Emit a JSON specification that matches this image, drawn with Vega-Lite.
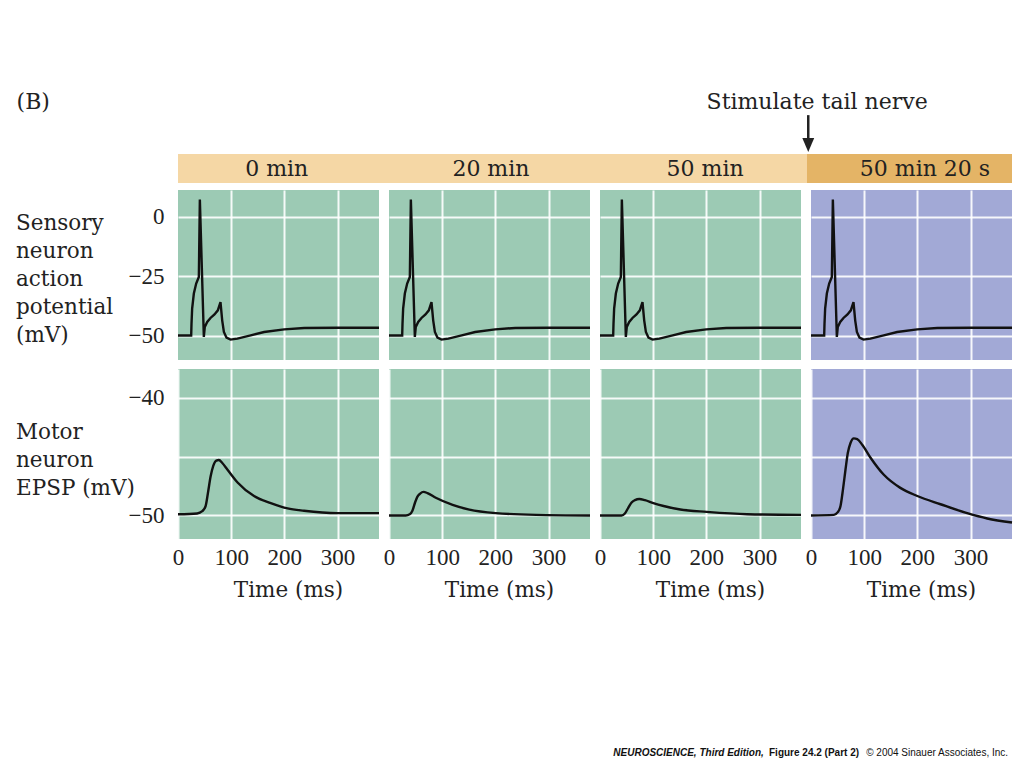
{
  "$schema": "https://vega.github.io/schema/vega-lite/v6.json",
  "background": "white",
  "padding": {"left": 15, "top": 91, "right": 5, "bottom": 5},
  "bounds": "flush",
  "spacing": 7,
  "config": {
    "view": {"stroke": null},
    "axis": {
      "grid": true, "gridColor": "#ffffff", "gridWidth": 2, "gridOpacity": 0.9,
      "domain": false, "ticks": false,
      "labelColor": "#222222", "titleColor": "#222222",
      "labelFont": "Liberation Serif", "labelFontSize": 23,
      "titleFont": "DejaVu Serif", "titleFontSize": 21.5, "titleFontWeight": "normal"
    },
    "text": {"font": "DejaVu Serif", "fontSize": 21.5, "color": "#222222"}
  },
  "datasets": {
    "bands": [
      {"phase": "before", "x0": 0, "x1": 2.981},
      {"phase": "after", "x0": 2.981, "x1": 3.9526}
    ],
    "headers": [
      {"label": "0 min", "pos": 0.468},
      {"label": "20 min", "pos": 1.483},
      {"label": "50 min", "pos": 2.498},
      {"label": "50 min 20 s", "pos": 3.54}
    ],
    "notes": [
      {"label": "(B)", "pos": -0.765},
      {"label": "Stimulate tail nerve", "pos": 2.505}
    ],
    "stimulus": [{"pos": 2.987}],
    "credits": [
      {"part": 1, "label": "NEUROSCIENCE, Third Edition,", "pos": 2.063},
      {"part": 2, "label": "Figure 24.2 (Part 2)", "pos": 2.801},
      {"part": 3, "label": "© 2004 Sinauer Associates, Inc.", "pos": 3.934}
    ],
    "ap": [
      {"t": 0, "v": -50}, {"t": 24.8, "v": -50}, {"t": 25.4, "v": -45}, {"t": 26.6, "v": -38.7},
      {"t": 29.8, "v": -32.3}, {"t": 34.2, "v": -28.1}, {"t": 39.2, "v": -25.3}, {"t": 41.1, "v": 7.3},
      {"t": 48.6, "v": -50.6}, {"t": 50.4, "v": -46.4}, {"t": 54.9, "v": -44.3}, {"t": 61.1, "v": -42.6},
      {"t": 68.6, "v": -41.1}, {"t": 74.9, "v": -39.4}, {"t": 79.9, "v": -35.9}, {"t": 83.1, "v": -43.6},
      {"t": 86.3, "v": -48.5}, {"t": 91.2, "v": -50.9}, {"t": 98.7, "v": -51.7}, {"t": 111.6, "v": -51.3},
      {"t": 136.8, "v": -49.9}, {"t": 162, "v": -48.5}, {"t": 199.7, "v": -47.4}, {"t": 237.4, "v": -46.8},
      {"t": 300, "v": -46.7}, {"t": 378, "v": -46.7}
    ],
    "epsp": [
      {"cond": "0 min", "t": 0, "v": -49.9}, {"cond": "0 min", "t": 36, "v": -49.83}, {"cond": "0 min", "t": 45.6, "v": -49.64},
      {"cond": "0 min", "t": 51.9, "v": -49.2}, {"cond": "0 min", "t": 56.3, "v": -48.1}, {"cond": "0 min", "t": 61.3, "v": -46.7},
      {"cond": "0 min", "t": 66.3, "v": -45.8}, {"cond": "0 min", "t": 72, "v": -45.35}, {"cond": "0 min", "t": 77, "v": -45.3},
      {"cond": "0 min", "t": 83.3, "v": -45.55}, {"cond": "0 min", "t": 92.8, "v": -46.1}, {"cond": "0 min", "t": 112, "v": -47.2},
      {"cond": "0 min", "t": 143, "v": -48.35}, {"cond": "0 min", "t": 174.5, "v": -48.95}, {"cond": "0 min", "t": 206, "v": -49.4},
      {"cond": "0 min", "t": 237, "v": -49.6}, {"cond": "0 min", "t": 300, "v": -49.8}, {"cond": "0 min", "t": 378, "v": -49.8},

      {"cond": "20 min", "t": 0, "v": -50}, {"cond": "20 min", "t": 31.5, "v": -50}, {"cond": "20 min", "t": 39, "v": -49.9},
      {"cond": "20 min", "t": 44, "v": -49.6}, {"cond": "20 min", "t": 49, "v": -48.9}, {"cond": "20 min", "t": 53.5, "v": -48.4},
      {"cond": "20 min", "t": 58.5, "v": -48.15}, {"cond": "20 min", "t": 64.8, "v": -48.0}, {"cond": "20 min", "t": 72.3, "v": -48.1},
      {"cond": "20 min", "t": 88, "v": -48.5}, {"cond": "20 min", "t": 119.6, "v": -49.1}, {"cond": "20 min", "t": 151, "v": -49.5},
      {"cond": "20 min", "t": 201, "v": -49.8}, {"cond": "20 min", "t": 277, "v": -49.95}, {"cond": "20 min", "t": 378, "v": -50},

      {"cond": "50 min", "t": 0, "v": -50}, {"cond": "50 min", "t": 40.5, "v": -50}, {"cond": "50 min", "t": 46.8, "v": -49.83},
      {"cond": "50 min", "t": 53.1, "v": -49.35}, {"cond": "50 min", "t": 59.4, "v": -48.9}, {"cond": "50 min", "t": 65.7, "v": -48.7},
      {"cond": "50 min", "t": 73.9, "v": -48.6}, {"cond": "50 min", "t": 84.5, "v": -48.7}, {"cond": "50 min", "t": 100.3, "v": -48.95},
      {"cond": "50 min", "t": 119.6, "v": -49.2}, {"cond": "50 min", "t": 151, "v": -49.5}, {"cond": "50 min", "t": 201, "v": -49.7},
      {"cond": "50 min", "t": 277, "v": -49.9}, {"cond": "50 min", "t": 378, "v": -49.95},

      {"cond": "50 min 20 s", "t": 0, "v": -50}, {"cond": "50 min 20 s", "t": 43, "v": -49.95}, {"cond": "50 min 20 s", "t": 50.4, "v": -49.72},
      {"cond": "50 min 20 s", "t": 55.5, "v": -49.2}, {"cond": "50 min 20 s", "t": 60.5, "v": -47.66}, {"cond": "50 min 20 s", "t": 64.9, "v": -46.1},
      {"cond": "50 min 20 s", "t": 69.2, "v": -44.7}, {"cond": "50 min 20 s", "t": 74.3, "v": -43.85}, {"cond": "50 min 20 s", "t": 80.5, "v": -43.46},
      {"cond": "50 min 20 s", "t": 86.9, "v": -43.52}, {"cond": "50 min 20 s", "t": 96.3, "v": -44.0}, {"cond": "50 min 20 s", "t": 112, "v": -45.1},
      {"cond": "50 min 20 s", "t": 137, "v": -46.55}, {"cond": "50 min 20 s", "t": 168, "v": -47.66}, {"cond": "50 min 20 s", "t": 200, "v": -48.35},
      {"cond": "50 min 20 s", "t": 243.6, "v": -49.05}, {"cond": "50 min 20 s", "t": 293.8, "v": -49.81}, {"cond": "50 min 20 s", "t": 331.4, "v": -50.26},
      {"cond": "50 min 20 s", "t": 378, "v": -50.6}
    ]
  },
  "vconcat": [
    {
      "width": 834, "height": 29,
      "layer": [
        {
          "data": {"name": "bands"},
          "mark": {"type": "rect"},
          "encoding": {
            "x": {"field": "x0", "type": "quantitative", "scale": {"domain": [0, 3.9526], "nice": false, "zero": false}, "axis": null},
            "x2": {"field": "x1"},
            "y": {"datum": 0, "type": "quantitative", "scale": {"domain": [0, 1], "nice": false, "zero": false}, "axis": null},
            "y2": {"datum": 1},
            "color": {"field": "phase", "type": "nominal", "scale": {"domain": ["before", "after"], "range": ["#f5d7a5", "#e4b466"]}, "legend": null}
          }
        },
        {
          "data": {"name": "headers"},
          "mark": {"type": "text", "align": "center", "baseline": "middle", "fontSize": 22},
          "encoding": {
            "x": {"field": "pos", "type": "quantitative"},
            "y": {"datum": 0.48, "type": "quantitative"},
            "text": {"field": "label"}
          }
        },
        {
          "data": {"name": "notes"},
          "mark": {"type": "text", "align": "left", "baseline": "middle", "fontSize": 22},
          "encoding": {
            "x": {"field": "pos", "type": "quantitative"},
            "y": {"datum": 2.78, "type": "quantitative"},
            "text": {"field": "label"}
          }
        },
        {
          "data": {"name": "stimulus"},
          "mark": {"type": "rule", "strokeWidth": 2.5, "color": "#222222"},
          "encoding": {
            "x": {"field": "pos", "type": "quantitative"},
            "y": {"datum": 2.34, "type": "quantitative"},
            "y2": {"datum": 1.45}
          }
        },
        {
          "data": {"name": "stimulus"},
          "mark": {"type": "point", "shape": "M-0.85,-1L0.85,-1L0,1Z", "filled": true, "size": 196, "color": "#222222", "opacity": 1},
          "encoding": {
            "x": {"field": "pos", "type": "quantitative"},
            "y": {"datum": 1.31, "type": "quantitative"}
          }
        }
      ]
    },
    {
      "columns": 4,
      "bounds": "flush",
      "spacing": {"row": 9, "column": 10},
      "concat": [
        {
          "width": 201, "height": 170,
          "view": {"fill": "#9ccab4", "stroke": null},
          "data": {"name": "ap"},
          "mark": {"type": "line", "color": "#111111", "strokeWidth": 2.4},
          "encoding": {
            "x": {"field": "t", "type": "quantitative", "scale": {"domain": [0, 378], "nice": false, "zero": false}, "axis": {"values": [100, 200, 300], "labels": false, "title": null}},
            "y": {"field": "v", "type": "quantitative", "scale": {"domain": [-60.3, 11.3], "nice": false, "zero": false},
                  "axis": {"values": [-50, -25, 0], "labelPadding": 14, "title": ["Sensory", "neuron", "action", "potential", "(mV)"],
                           "titleAngle": 0, "titleAlign": "left", "titleBaseline": "alphabetic", "titleX": -162.5, "titleY": 39, "titleLineHeight": 28}}
          }
        },
        {
          "width": 201, "height": 170,
          "view": {"fill": "#9ccab4", "stroke": null},
          "data": {"name": "ap"},
          "mark": {"type": "line", "color": "#111111", "strokeWidth": 2.4},
          "encoding": {
            "x": {"field": "t", "type": "quantitative", "scale": {"domain": [0, 378], "nice": false, "zero": false}, "axis": {"values": [100, 200, 300], "labels": false, "title": null}},
            "y": {"field": "v", "type": "quantitative", "scale": {"domain": [-60.3, 11.3], "nice": false, "zero": false}, "axis": {"values": [-50, -25, 0], "labels": false, "title": null}}
          }
        },
        {
          "width": 201, "height": 170,
          "view": {"fill": "#9ccab4", "stroke": null},
          "data": {"name": "ap"},
          "mark": {"type": "line", "color": "#111111", "strokeWidth": 2.4},
          "encoding": {
            "x": {"field": "t", "type": "quantitative", "scale": {"domain": [0, 378], "nice": false, "zero": false}, "axis": {"values": [100, 200, 300], "labels": false, "title": null}},
            "y": {"field": "v", "type": "quantitative", "scale": {"domain": [-60.3, 11.3], "nice": false, "zero": false}, "axis": {"values": [-50, -25, 0], "labels": false, "title": null}}
          }
        },
        {
          "width": 201, "height": 170,
          "view": {"fill": "#a2a9d6", "stroke": null},
          "data": {"name": "ap"},
          "mark": {"type": "line", "color": "#111111", "strokeWidth": 2.4},
          "encoding": {
            "x": {"field": "t", "type": "quantitative", "scale": {"domain": [0, 378], "nice": false, "zero": false}, "axis": {"values": [100, 200, 300], "labels": false, "title": null}},
            "y": {"field": "v", "type": "quantitative", "scale": {"domain": [-60.3, 11.3], "nice": false, "zero": false}, "axis": {"values": [-50, -25, 0], "labels": false, "title": null}}
          }
        },
        {
          "width": 201, "height": 170,
          "view": {"fill": "#9ccab4", "stroke": null},
          "data": {"name": "epsp"},
          "transform": [{"filter": "datum.cond === '0 min'"}],
          "mark": {"type": "line", "color": "#111111", "strokeWidth": 2.4, "interpolate": "monotone"},
          "encoding": {
            "x": {"field": "t", "type": "quantitative", "scale": {"domain": [0, 378], "nice": false, "zero": false},
                  "axis": {"values": [0, 100, 200, 300], "labelFlush": false, "labelPadding": 7, "title": "Time (ms)", "titlePadding": 10, "titleX": 110}},
            "y": {"field": "v", "type": "quantitative", "scale": {"domain": [-52, -37.57], "nice": false, "zero": false},
                  "axis": {"values": [-50, -45, -40], "labelExpr": "datum.value == -45 ? '' : datum.label", "labelPadding": 14,
                           "title": ["Motor", "neuron", "EPSP (mV)"], "titleAngle": 0, "titleAlign": "left", "titleBaseline": "alphabetic",
                           "titleX": -162.5, "titleY": 69, "titleLineHeight": 28}}
          }
        },
        {
          "width": 201, "height": 170,
          "view": {"fill": "#9ccab4", "stroke": null},
          "data": {"name": "epsp"},
          "transform": [{"filter": "datum.cond === '20 min'"}],
          "mark": {"type": "line", "color": "#111111", "strokeWidth": 2.4, "interpolate": "monotone"},
          "encoding": {
            "x": {"field": "t", "type": "quantitative", "scale": {"domain": [0, 378], "nice": false, "zero": false},
                  "axis": {"values": [0, 100, 200, 300], "labelFlush": false, "labelPadding": 7, "title": "Time (ms)", "titlePadding": 10, "titleX": 110}},
            "y": {"field": "v", "type": "quantitative", "scale": {"domain": [-52, -37.57], "nice": false, "zero": false}, "axis": {"values": [-50, -45, -40], "labels": false, "title": null}}
          }
        },
        {
          "width": 201, "height": 170,
          "view": {"fill": "#9ccab4", "stroke": null},
          "data": {"name": "epsp"},
          "transform": [{"filter": "datum.cond === '50 min'"}],
          "mark": {"type": "line", "color": "#111111", "strokeWidth": 2.4, "interpolate": "monotone"},
          "encoding": {
            "x": {"field": "t", "type": "quantitative", "scale": {"domain": [0, 378], "nice": false, "zero": false},
                  "axis": {"values": [0, 100, 200, 300], "labelFlush": false, "labelPadding": 7, "title": "Time (ms)", "titlePadding": 10, "titleX": 110}},
            "y": {"field": "v", "type": "quantitative", "scale": {"domain": [-52, -37.57], "nice": false, "zero": false}, "axis": {"values": [-50, -45, -40], "labels": false, "title": null}}
          }
        },
        {
          "width": 201, "height": 170,
          "view": {"fill": "#a2a9d6", "stroke": null},
          "data": {"name": "epsp"},
          "transform": [{"filter": "datum.cond === '50 min 20 s'"}],
          "mark": {"type": "line", "color": "#111111", "strokeWidth": 2.4, "interpolate": "monotone"},
          "encoding": {
            "x": {"field": "t", "type": "quantitative", "scale": {"domain": [0, 378], "nice": false, "zero": false},
                  "axis": {"values": [0, 100, 200, 300], "labelFlush": false, "labelPadding": 7, "title": "Time (ms)", "titlePadding": 10, "titleX": 110}},
            "y": {"field": "v", "type": "quantitative", "scale": {"domain": [-52, -37.57], "nice": false, "zero": false}, "axis": {"values": [-50, -45, -40], "labels": false, "title": null}}
          }
        }
      ]
    },
    {
      "width": 834, "height": 555.5,
      "data": {"name": "credits"},
      "encoding": {
        "x": {"field": "pos", "type": "quantitative", "scale": {"domain": [0, 3.9526], "nice": false, "zero": false}, "axis": null},
        "y": {"datum": 0, "type": "quantitative", "scale": {"domain": [0, 1], "nice": false, "zero": false}, "axis": null},
        "text": {"field": "label"}
      },
      "layer": [
        {"transform": [{"filter": "datum.part === 1"}], "mark": {"type": "text", "align": "left", "baseline": "middle", "font": "Liberation Sans", "fontSize": 10, "fontWeight": "bold", "fontStyle": "italic", "color": "#111111"}},
        {"transform": [{"filter": "datum.part === 2"}], "mark": {"type": "text", "align": "left", "baseline": "middle", "font": "Liberation Sans", "fontSize": 10, "fontWeight": "bold", "color": "#111111"}},
        {"transform": [{"filter": "datum.part === 3"}], "mark": {"type": "text", "align": "right", "baseline": "middle", "font": "Liberation Sans", "fontSize": 10, "color": "#111111"}}
      ]
    }
  ]
}
